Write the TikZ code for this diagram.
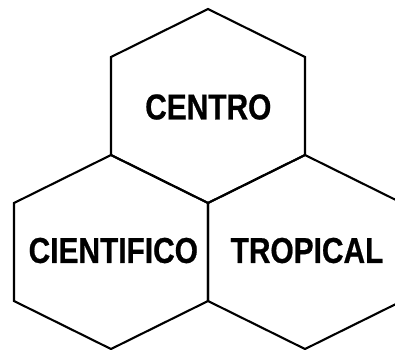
\documentclass[tikz,border=0pt]{standalone}
\usepackage{fontspec}
\newfontfamily\labelfont{Liberation Sans}[FakeStretch=0.83, BoldFeatures={FakeBold=0.6}]
\tikzset{
  hexline/.style={draw=black, line width=2.1pt, line join=miter},
  hexlabel/.style={font=\labelfont\bfseries\fontsize{36}{40}\selectfont, inner sep=0pt, text=black},
}
\begin{document}
\begin{tikzpicture}[x=1pt,y=-1pt]
  \useasboundingbox (0,0) rectangle (395,349);
  \clip (0,0) rectangle (395,349);
  \foreach \cx/\cy in {208/106, 111/252, 305/252}{
    \draw[hexline] (\cx,\cy-97) -- (\cx+97,\cy-49) -- (\cx+97,\cy+49) -- (\cx,\cy+97)
      -- (\cx-97,\cy+49) -- (\cx-97,\cy-49) -- cycle;
  }
  \node[hexlabel] (centro) at (208.3,107) {CENTRO};
  \node[hexlabel] (cientifico) at (113.3,250.5) {CIENTIFICO};
  \node[hexlabel] (tropical) at (307,250.5) {TROPICAL};
\end{tikzpicture}
\end{document}
